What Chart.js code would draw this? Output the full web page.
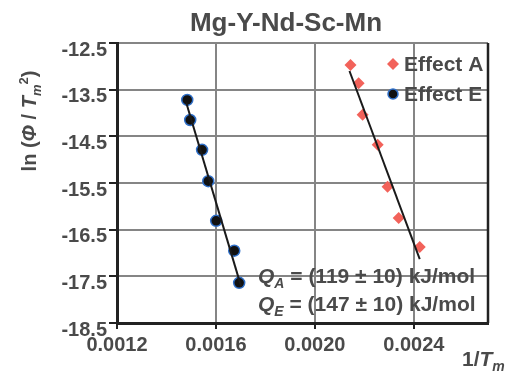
<!DOCTYPE html>
<html>
<head>
<meta charset="utf-8">
<script src="https://cdn.jsdelivr.net/npm/chart.js@4/dist/chart.umd.min.js"></script>
<style>
  html, body { margin: 0; padding: 0; background: #fff; }
  #wrap { width: 514px; height: 371px; position: relative; }
</style>
</head>
<body>
<div id="wrap"><canvas id="chart"></canvas></div>
<script>
// values
var effectAx = [0.002144, 0.002177, 0.002193, 0.002254, 0.002294, 0.002339, 0.002424];
var effectAy = [-12.97, -13.36, -14.04, -14.68, -15.58, -16.25, -16.87];
var effectEx = [0.001484, 0.001496, 0.001544, 0.001569, 0.001601, 0.001674, 0.001694];
var effectEy = [-13.72, -14.15, -14.79, -15.46, -16.31, -16.95, -17.64];
// fitted lines, end points as drawn
var fitAx = [0.00214, 0.002424];
var fitAy = [-13.1, -17.13];
var fitEx = [0.00148, 0.001702];
var fitEy = [-13.78, -17.72];

var xTicks = [0.0012, 0.0016, 0.0020, 0.0024];
var yTicks = [-12.5, -13.5, -14.5, -15.5, -16.5, -17.5, -18.5];
var seriesNames = ['Effect A', 'Effect E'];
var chartTitle = 'Mg-Y-Nd-Sc-Mn';
var noteA = ['Q', 'A', ' = (119 \u00b1 10) kJ/mol'];
var noteE = ['Q', 'E', ' = (147 \u00b1 10) kJ/mol'];

var textColor = '#4a4a4a';
var fontFam = '"Liberation Sans", Arial, sans-serif';

function toPoints(xs, ys) {
    var pts = [];
    for (var i = 0; i < xs.length; ++i) {
        pts.push({ x: xs[i], y: ys[i] });
    }
    return pts;
}

// draws a run of text pieces: {t, it, sub, sup}
function drawRich(ctx, parts, x, y, size) {
    for (var i = 0; i < parts.length; ++i) {
        var p = parts[i];
        var s = (p.sub || p.sup) ? Math.round(size * 0.65) : size;
        var dy = p.sub ? size * 0.25 : (p.sup ? -size * 0.4 : 0);
        ctx.font = (p.it ? 'italic ' : '') + 'bold ' + s + 'px ' + fontFam;
        ctx.fillText(p.t, x, y + dy);
        x += ctx.measureText(p.t).width;
    }
    return x;
}

function richWidth(ctx, parts, size) {
    var w = 0;
    for (var i = 0; i < parts.length; ++i) {
        var p = parts[i];
        var s = (p.sub || p.sup) ? Math.round(size * 0.65) : size;
        ctx.font = (p.it ? 'italic ' : '') + 'bold ' + s + 'px ' + fontFam;
        w += ctx.measureText(p.t).width;
    }
    return w;
}

var decorPlugin = {
    id: 'decor',
    afterDraw: function (chart) {
        var ctx = chart.ctx;
        var area = chart.chartArea;
        ctx.save();
        ctx.fillStyle = textColor;
        ctx.textBaseline = 'alphabetic';
        ctx.textAlign = 'left';

        // right frame edge
        ctx.strokeStyle = '#222';
        ctx.lineWidth = 2.5;
        ctx.beginPath();
        ctx.moveTo(area.right, area.top);
        ctx.lineTo(area.right, area.bottom);
        ctx.stroke();

        // title
        ctx.font = 'bold 26px ' + fontFam;
        ctx.textAlign = 'center';
        ctx.fillText(chartTitle, 286, 31);
        ctx.textAlign = 'left';

        // y axis title
        var yParts = [{ t: 'ln (' }, { t: '\u03a6', it: true }, { t: ' / ' }, { t: 'T', it: true },
                      { t: 'm', it: true, sub: true }, { t: '2', sup: true }, { t: ')' }];
        ctx.save();
        ctx.translate(36, 121);
        ctx.rotate(-Math.PI / 2);
        var w = richWidth(ctx, yParts, 20);
        drawRich(ctx, yParts, -w / 2, 0, 20);
        ctx.restore();

        // x axis title
        drawRich(ctx, [{ t: '1/' }, { t: 'T', it: true }, { t: 'm', it: true, sub: true }], 462, 366, 21);

        // notes
        drawRich(ctx, [{ t: noteA[0], it: true }, { t: noteA[1], it: true, sub: true }, { t: noteA[2] }], 258, 283, 21);
        drawRich(ctx, [{ t: noteE[0], it: true }, { t: noteE[1], it: true, sub: true }, { t: noteE[2] }], 258, 311, 21);

        // legend
        var dsA = chart.data.datasets[0], dsE = chart.data.datasets[1];
        ctx.fillStyle = dsA.backgroundColor;
        ctx.beginPath();
        ctx.moveTo(393, 58); ctx.lineTo(399, 64); ctx.lineTo(393, 70); ctx.lineTo(387, 64);
        ctx.closePath();
        ctx.fill();
        ctx.fillStyle = dsE.backgroundColor;
        ctx.strokeStyle = dsE.borderColor;
        ctx.lineWidth = 1.5;
        ctx.beginPath();
        ctx.arc(393, 94, 5, 0, Math.PI * 2);
        ctx.fill();
        ctx.stroke();
        ctx.fillStyle = textColor;
        ctx.font = 'bold 21px ' + fontFam;
        ctx.fillText(seriesNames[0], 404, 71);
        ctx.fillText(seriesNames[1], 404, 101);
        ctx.restore();
    }
};

var ctx = document.getElementById('chart').getContext('2d');
var chart = new Chart(ctx, {
    type: 'scatter',
    data: {
        datasets: [{
            label: seriesNames[0],
            data: toPoints(effectAx, effectAy),
            pointStyle: 'rectRot',
            pointRadius: 6,
            backgroundColor: '#f2625a',
            borderColor: '#f2625a',
            borderWidth: 0,
            order: 2
        }, {
            label: seriesNames[1],
            data: toPoints(effectEx, effectEy),
            pointStyle: 'circle',
            pointRadius: 5.5,
            backgroundColor: '#111111',
            borderColor: '#2f6fc8',
            borderWidth: 1.5,
            order: 2
        }, {
            type: 'line',
            label: 'fit A',
            data: toPoints(fitAx, fitAy),
            borderColor: '#1a1a1a',
            borderWidth: 2,
            pointRadius: 0,
            fill: false,
            order: 1
        }, {
            type: 'line',
            label: 'fit E',
            data: toPoints(fitEx, fitEy),
            borderColor: '#1a1a1a',
            borderWidth: 2,
            pointRadius: 0,
            fill: false,
            order: 1
        }]
    },
    options: {
        responsive: true,
        maintainAspectRatio: false,
        animation: false,
        layout: { padding: { left: 0, right: 26, top: 43, bottom: 0 } },
        plugins: {
            legend: { display: false },
            title: { display: false },
            tooltip: { enabled: false }
        },
        scales: {
            x: {
                type: 'linear',
                min: 0.0012,
                max: 0.0027,
                afterBuildTicks: function (scale) {
                    scale.ticks = xTicks.map(function (v) { return { value: v }; });
                },
                afterFit: function (scale) { scale.height = 48; },
                ticks: {
                    color: textColor,
                    font: { family: fontFam, size: 20, weight: 'bold' },
                    padding: 4,
                    maxRotation: 0,
                    callback: function (v) { return Number(v).toFixed(4); }
                },
                grid: { color: '#858585', lineWidth: 2, tickLength: 6, tickColor: '#222' },
                border: { color: '#222', width: 3 }
            },
            y: {
                type: 'linear',
                min: -18.5,
                max: -12.5,
                afterBuildTicks: function (scale) {
                    scale.ticks = yTicks.map(function (v) { return { value: v }; });
                },
                afterFit: function (scale) { scale.width = 117; },
                ticks: {
                    color: textColor,
                    font: { family: fontFam, size: 20, weight: 'bold' },
                    padding: 2,
                    labelOffset: 7,
                    callback: function (v) { return Number(v).toFixed(1); }
                },
                grid: { color: '#858585', lineWidth: 2, tickLength: 8, tickColor: '#222' },
                border: { color: '#222', width: 3 }
            }
        }
    },
    plugins: [decorPlugin]
});
</script>
</body>
</html>
